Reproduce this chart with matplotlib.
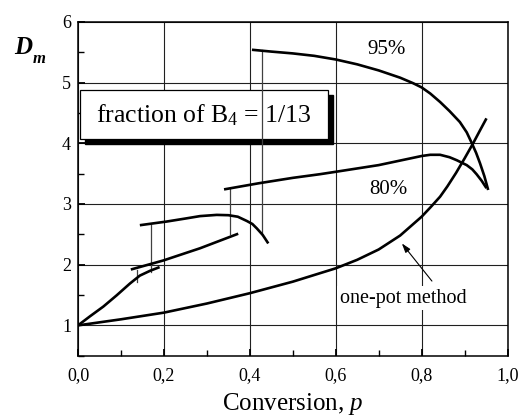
import numpy as np
import matplotlib
matplotlib.use('Agg')
import matplotlib.pyplot as plt
from matplotlib.patches import Rectangle
from matplotlib.ticker import MultipleLocator, FuncFormatter

plt.rcParams['font.family'] = ['Liberation Serif', 'DejaVu Serif']
plt.rcParams['mathtext.fontset'] = 'custom'
plt.rcParams['mathtext.rm'] = 'Liberation Serif'
plt.rcParams['mathtext.it'] = 'Liberation Serif:italic'
plt.rcParams['mathtext.bf'] = 'Liberation Serif:bold'

# -------------------------------------------------------------------------------------
# Data
onepot_p = [0.0, 0.1, 0.2, 0.3, 0.4, 0.5, 0.6, 0.65, 0.7, 0.75, 0.8, 0.82, 0.843, 0.86, 0.88,
            0.9, 0.92, 0.935, 0.951]
onepot_d = [1.0, 1.1, 1.21, 1.36, 1.53, 1.72, 1.94, 2.08, 2.25, 2.48, 2.79, 2.94, 3.12, 3.29, 3.51,
            3.75, 4.0, 4.2, 4.41]

stage1_p = [0.0, 0.028, 0.059, 0.09, 0.121, 0.144, 0.168, 0.19]
stage1_d = [1.0, 1.15, 1.31, 1.495, 1.69, 1.82, 1.9, 1.96]

stage2_p = [0.123, 0.199, 0.284, 0.373]
stage2_d = [1.92, 2.07, 2.27, 2.51]

stage3_p = [0.144, 0.206, 0.25, 0.284, 0.323, 0.35, 0.372, 0.393, 0.406, 0.416, 0.43, 0.443]
stage3_d = [2.65, 2.71, 2.76, 2.80, 2.82, 2.815, 2.79, 2.72, 2.67, 2.60, 2.49, 2.35]

conv80_p = [0.34, 0.42, 0.5, 0.563, 0.6, 0.7, 0.8, 0.82, 0.843, 0.865, 0.882, 0.905, 0.918,
            0.928, 0.94, 0.951]
conv80_d = [3.24, 3.34, 3.43, 3.49, 3.53, 3.64, 3.79, 3.81, 3.81, 3.77, 3.72, 3.64, 3.57,
            3.49, 3.38, 3.26]

conv95_p = [0.405, 0.45, 0.5, 0.55, 0.6, 0.65, 0.7, 0.75, 0.78, 0.8, 0.82, 0.843, 0.865, 0.889,
            0.905, 0.917, 0.927, 0.936, 0.946, 0.955]
conv95_d = [5.54, 5.51, 5.48, 5.44, 5.38, 5.30, 5.20, 5.08, 4.99, 4.92, 4.82, 4.68, 4.53, 4.35,
            4.18, 4.0, 3.84, 3.67, 3.46, 3.23]

# vertical connectors between stages: x, y_low, y_high
link_p = [0.137, 0.171, 0.355, 0.429]
link_lo = [1.715, 1.88, 2.51, 2.49]
link_hi = [1.92, 2.65, 3.24, 5.53]

x_ticks = [0.0, 0.2, 0.4, 0.6, 0.8, 1.0]
y_ticks = [1, 2, 3, 4, 5, 6]
# -------------------------------------------------------------------------------------

fig = plt.figure(figsize=(5.2, 4.2), dpi=100)
ax = fig.add_axes([0.15, 0.153, 0.826, 0.795])

ax.set_xlim(0.0, 1.0)
ax.set_ylim(0.5, 6.0)
ax.set_xticks(x_ticks)
ax.set_yticks(y_ticks)
ax.xaxis.set_minor_locator(MultipleLocator(0.1))
ax.yaxis.set_minor_locator(MultipleLocator(0.5))
ax.xaxis.set_major_formatter(FuncFormatter(lambda v, pos: ('%.1f' % v).replace('.', ',')))
ax.tick_params(which='major', direction='in', length=5, width=1.3, labelsize=13)
ax.tick_params(which='minor', direction='in', length=4, width=1.0)
ax.tick_params(axis='x', pad=8)
ax.tick_params(axis='y', pad=5)
for sp in ax.spines.values():
    sp.set_linewidth(1.1)

ax.grid(True, which='major', color='#202020', linewidth=0.8, zorder=0)
ax.set_axisbelow(True)

# inset label box with shadow
dx = 5.0 / 429.5
dy = 5.0 / 60.6
ax.add_patch(Rectangle((0.005 + dx, 4.07 - dy), 0.577, 0.81, facecolor='black',
                       edgecolor='black', zorder=2))
ax.add_patch(Rectangle((0.005, 4.07), 0.577, 0.81, facecolor='white',
                       edgecolor='black', linewidth=0.9, zorder=3))
ax.text(0.294, 4.47, r'fraction of B$_4$ = 1/13', fontsize=18.5, ha='center', va='center', zorder=4)

for xp, lo, hi in zip(link_p, link_lo, link_hi):
    ax.plot([xp, xp], [lo, hi], color='#404040', linewidth=0.9, zorder=5)

for px, py in [(onepot_p, onepot_d), (stage1_p, stage1_d), (stage2_p, stage2_d),
               (stage3_p, stage3_d), (conv80_p, conv80_d), (conv95_p, conv95_d)]:
    ax.plot(px, py, color='black', linewidth=1.9, solid_capstyle='butt',
            solid_joinstyle='round', zorder=6)

ax.text(0.719, 5.54, '95%', fontsize=15, ha='center', va='center', zorder=7)
ax.text(0.723, 3.24, '80%', fontsize=15, ha='center', va='center', zorder=7)

ax.text(0.757, 1.45, 'one-pot method', fontsize=14.5, ha='center', va='center', zorder=7,
        bbox=dict(boxstyle='square,pad=0.12', facecolor='white', edgecolor='none'))
ax.annotate('', xy=(0.754, 2.35), xytext=(0.824, 1.73),
            arrowprops=dict(arrowstyle='-|>,head_length=0.55,head_width=0.18',
                            color='black', linewidth=0.8, shrinkA=0, shrinkB=0), zorder=7)

ax.set_xlabel(r'Conversion, $p$', fontsize=18, labelpad=5)

fig.text(14 / 520, 1 - 54 / 420, 'D', fontsize=18, fontweight='bold', fontstyle='italic',
         ha='left', va='baseline')
fig.text(33 / 520, 1 - 63 / 420, 'm', fontsize=12, fontweight='bold', fontstyle='italic',
         ha='left', va='baseline')

fig.savefig('out.png', dpi=100)
plt.close()
